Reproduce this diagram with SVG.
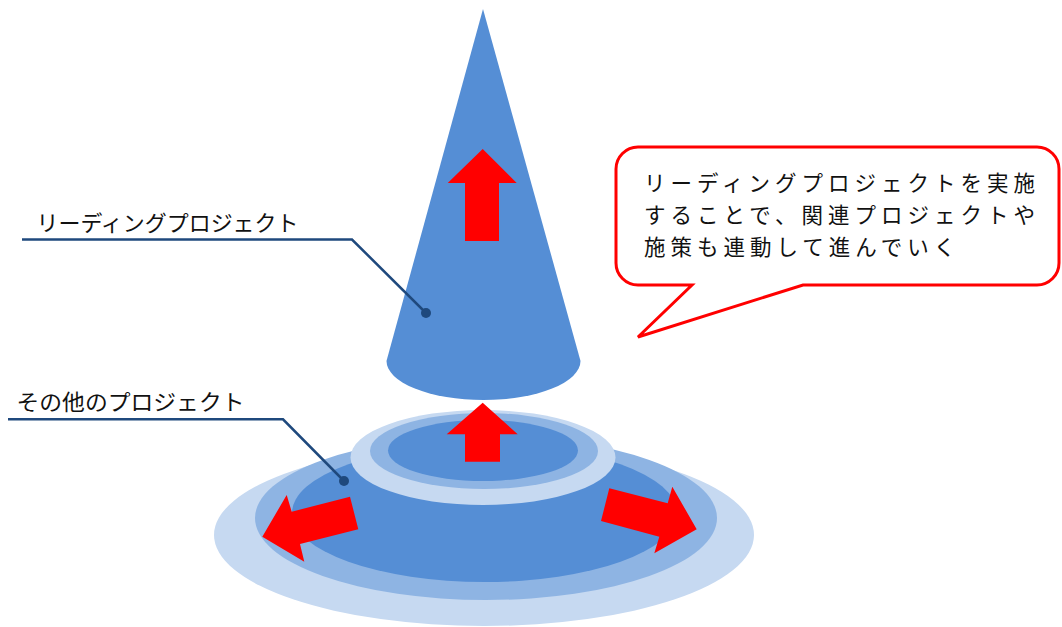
<svg xmlns="http://www.w3.org/2000/svg" width="1062" height="627" viewBox="0 0 1062 627">
  <style>
    .light { fill: #C6D9F1; }
    .mid { fill: #8EB4E3; }
    .dark { fill: #558ED5; }
    .red { fill: #FF0000; }
    .leader { fill: none; stroke: #1F497D; stroke-width: 2.5; stroke-linejoin: miter; }
    .dot { fill: #1F497D; }
    .label { font-family: "Noto Sans CJK JP", sans-serif; font-size: 22px; fill: #111; }
    .note { font-family: "Noto Sans CJK JP", sans-serif; font-size: 21.5px; letter-spacing: 5px; fill: #111; }
  </style>

  <!-- lower tier: other projects -->
  <g id="base-tier">
    <ellipse class="light" cx="484" cy="535" rx="270" ry="91"/>
    <ellipse class="mid" cx="486" cy="518" rx="231" ry="82"/>
    <ellipse class="dark" cx="484.5" cy="513" rx="192.5" ry="69"/>
  </g>

  <!-- outward arrows on the lower tier -->
  <g id="spread-arrows">
    <polygon class="red" points="262.3,536.7 286.7,495 291.7,511.7 350,496.7 358.3,529.3 300,544 304.3,561.7"/>
    <polygon class="red" points="696.7,529.3 672.3,486.7 667.7,503.3 609.3,488.3 601,521 659.3,536.7 654.3,553.3"/>
  </g>

  <!-- middle tier -->
  <g id="middle-tier">
    <ellipse class="light" cx="483" cy="457.5" rx="132.5" ry="47.5"/>
    <ellipse class="mid" cx="484" cy="451" rx="114" ry="38"/>
    <ellipse class="dark" cx="483" cy="450.5" rx="95" ry="30.5"/>
    <polygon class="red" points="482.7,402.7 517.7,434.3 500,434.3 500,461.7 465,461.7 465,434.3 446.7,434.3"/>
  </g>

  <!-- cone: leading project -->
  <g id="cone">
    <path class="dark" d="M 483,9 L 386.5,361 A 97 39 0 0 0 580.5,361 Z"/>
    <polygon class="red" points="482.7,149 516.7,183 499,183 499,241 465,241 465,183 447.7,183"/>
  </g>

  <!-- leader lines -->
  <g id="connectors">
    <polyline class="leader" points="22,239.5 352,239.5 426,313"/>
    <circle class="dot" cx="426" cy="313" r="5"/>
    <polyline class="leader" points="8,419.3 283,419.3 344,481"/>
    <circle class="dot" cx="344" cy="481" r="5"/>
  </g>

  <g id="label-leading">
    <text class="label" x="36.5" y="231" textLength="262" lengthAdjust="spacingAndGlyphs">リーディングプロジェクト</text>
  </g>

  <g id="label-others">
    <text class="label" x="16.5" y="410" textLength="228" lengthAdjust="spacingAndGlyphs">その他のプロジェクト</text>
  </g>

  <!-- speech bubble -->
  <g id="callout">
    <path d="M 638,147 H 1037 A 22 22 0 0 1 1059,169 V 263 A 22 22 0 0 1 1037,285 H 803 L 638,337 L 692,285 H 638 A 22 22 0 0 1 616,263 V 169 A 22 22 0 0 1 638,147 Z" fill="#FFFFFF" stroke="#FF0000" stroke-width="3" stroke-linejoin="miter"/>
    <text class="note" x="644" y="191">リーディングプロジェクトを実施</text>
    <text class="note" x="644" y="223">することで、関連プロジェクトや</text>
    <text class="note" x="644" y="254.5">施策も連動して進んでいく</text>
  </g>
</svg>
